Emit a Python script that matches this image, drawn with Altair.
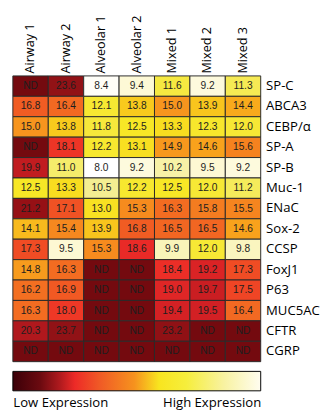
import altair as alt
import pandas as pd

samples = ["Airway 1", "Airway 2", "Alveolar 1", "Alveolar 2", "Mixed 1", "Mixed 2", "Mixed 3"]
genes = ["SP-C", "ABCA3", "CEBP/α", "SP-A", "SP-B", "Muc-1", "ENaC", "Sox-2",
         "CCSP", "FoxJ1", "P63", "MUC5AC", "CFTR", "CGRP"]
ND = None
sp_c   = [ND, 23.6, 8.4, 9.4, 11.6, 9.2, 11.3]
abca3  = [16.8, 16.4, 12.1, 13.8, 15.0, 13.9, 14.4]
cebp   = [15.0, 13.8, 11.8, 12.5, 13.3, 12.3, 12.0]
sp_a   = [ND, 18.1, 12.2, 13.1, 14.9, 14.6, 15.6]
sp_b   = [19.9, 11.0, 8.0, 9.2, 10.2, 9.5, 9.2]
muc1   = [12.5, 13.3, 10.5, 12.2, 12.5, 12.0, 11.2]
enac   = [21.2, 17.1, 13.0, 15.3, 16.3, 15.8, 15.5]
sox2   = [14.1, 15.4, 13.9, 16.8, 16.5, 16.5, 14.6]
ccsp   = [17.3, 9.5, 15.3, 18.6, 9.9, 12.0, 9.8]
foxj1  = [14.8, 16.3, ND, ND, 18.4, 19.2, 17.3]
p63    = [16.2, 16.9, ND, ND, 19.0, 19.7, 17.5]
muc5ac = [16.3, 18.0, ND, ND, 19.4, 19.5, 16.4]
cftr   = [20.3, 23.7, ND, ND, 23.2, ND, ND]
cgrp   = [ND, ND, ND, ND, ND, ND, ND]
rows = [sp_c, abca3, cebp, sp_a, sp_b, muc1, enac, sox2, ccsp, foxj1, p63, muc5ac, cftr, cgrp]

ND_LEVEL = 26.0
color_domain = [8.2, 9.5, 10.5, 11.5, 12.5, 13.5, 14.5, 15.5, 16.5, 17.5, 18.5, 19.5, 20.5, 21.5, 24.0, 26.0]
color_range = ["#ffffff", "#fdf8d3", "#f4ee92", "#f6e944", "#f7e726", "#f8da1e", "#f8a51c",
               "#f5851f", "#f26622", "#ef4525", "#ec2b27", "#d22024", "#a8161b", "#8e0e12",
               "#911317", "#740a0f"]

bar_stops = [(0.0, "#3b0008"), (0.11, "#6b0a10"), (0.19, "#b01a1e"), (0.25, "#ed2a27"),
             (0.35, "#f05a26"), (0.49, "#f6921e"), (0.59, "#f8e51f"), (0.70, "#f6ee3c"),
             (0.85, "#f8f2a0"), (1.0, "#fffdf0")]

recs = []
for g, vals in zip(genes, rows):
    for s, v in zip(samples, vals):
        recs.append({
            "gene": g, "sample": s,
            "level": ND_LEVEL if v is None else v,
            "label": "ND" if v is None else f"{v:.1f}",
        })
df = pd.DataFrame(recs)

FONT = "Open Sans"

base = alt.Chart(df).encode(
    x=alt.X("sample:N", sort=samples,
            scale=alt.Scale(paddingInner=0, paddingOuter=0),
            axis=alt.Axis(orient="top", title=None, labelAngle=270, labelAlign="left",
                          labelBaseline="middle", ticks=False, domain=False,
                          labelPadding=3, labelFont=FONT, labelFontSize=13,
                          labelColor="#000")),
    y=alt.Y("gene:N", sort=genes,
            scale=alt.Scale(paddingInner=0, paddingOuter=0),
            axis=alt.Axis(orient="right", title=None, ticks=False, domain=False,
                          labelPadding=5, labelFont=FONT, labelFontSize=13.5,
                          labelColor="#000")),
)

cells = base.mark_rect(stroke="#2a2a2a", strokeWidth=1).encode(
    color=alt.Color("level:Q", legend=None,
                    scale=alt.Scale(domain=color_domain, range=color_range,
                                    interpolate="rgb"))
)
texts = base.mark_text(font="Liberation Sans", fontSize=10.5, color="#1e1e1e").encode(
    text="label:N"
)
heat = alt.layer(cells, texts).properties(width=255, height=294)

bar_df = pd.DataFrame({"start": [0.0], "end": [1.0]})
bar = alt.Chart(bar_df).mark_rect(
    stroke="#000", strokeWidth=1,
    fill=alt.LinearGradient(gradient="linear", x1=0, x2=1, y1=0, y2=0,
                            stops=[alt.GradientStop(offset=o, color=c) for o, c in bar_stops]),
).encode(
    x=alt.X("start:Q", scale=alt.Scale(domain=[0, 1], nice=False),
            axis=alt.Axis(values=[0, 1], title=None, ticks=False, domain=False, grid=False,
                          labelFlush=True, labelPadding=5, labelFont=FONT, labelFontSize=13.5,
                          labelColor="#000",
                          labelExpr="datum.value == 0 ? 'Low Expression' : 'High Expression'")),
    x2="end:Q",
).properties(width=255, height=20)

chart = alt.vconcat(heat, bar, spacing=8).resolve_scale(color="independent").properties(
    padding={"left": 4, "top": 1, "right": 0, "bottom": 0},
    background="white",
).configure_view(strokeWidth=0)

chart.save("out.html", embed_options={"renderer": "svg", "actions": False})
